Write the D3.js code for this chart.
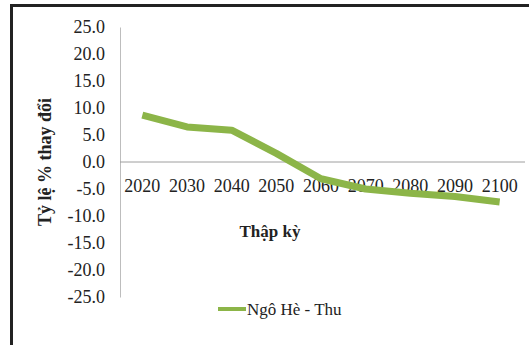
<!DOCTYPE html>
<html>
<head>
<meta charset="utf-8">
<script src="https://cdn.jsdelivr.net/npm/d3@7"></script>
<style>
  html, body { margin: 0; padding: 0; background: #fff; }
  svg { display: block; }
  svg text { font-family: "Liberation Serif", "Times New Roman", serif !important; fill: #222; }
</style>
</head>
<body>
<svg id="chart" width="529" height="345"></svg>
<script>
// Decades on the horizontal axis
const decades = ["2020", "2030", "2040", "2050", "2060", "2070", "2080", "2090", "2100"];
// Percentage change for summer-autumn maize
const changeValues = [8.7, 6.5, 5.9, 1.6, -3.1, -5.0, -5.8, -6.4, -7.4];
// Vertical tick values
const yTicks = [25, 20, 15, 10, 5, 0, -5, -10, -15, -20, -25];
const seriesName = "Ngô Hè - Thu";
const xTitle = "Thập kỳ";
const yTitle = "Tỷ lệ % thay đổi";

const serif = "'Liberation Serif', 'Times New Roman', serif";
const svg = d3.select("#chart");
const W = 529, H = 345;

// Outer frame (top and left edges)
svg.append("rect").attr("x", 0).attr("y", 0).attr("width", W).attr("height", H).attr("fill", "#fff");
svg.append("line").attr("x1", 10).attr("x2", W).attr("y1", 5.5).attr("y2", 5.5)
  .attr("stroke", "#222").attr("stroke-width", 3);
svg.append("line").attr("x1", 11.5).attr("x2", 11.5).attr("y1", 4).attr("y2", H)
  .attr("stroke", "#222").attr("stroke-width", 3);

const plot = { left: 120, right: 522, top: 27, bottom: 297 };

const x = d3.scaleBand().domain(decades).range([plot.left, plot.right]);
const y = d3.scaleLinear().domain([-25, 25]).range([plot.bottom, plot.top]);

// Vertical axis with labels on the left (plain hyphen for negatives)
const yAxis = d3.axisLeft(y).tickValues(yTicks).tickSize(0).tickPadding(15)
  .tickFormat(d => d.toFixed(1));
const gy = svg.append("g").attr("transform", `translate(${plot.left},0)`).call(yAxis)
  .attr("font-family", serif);
gy.select(".domain").attr("stroke", "#bdbdbd").attr("stroke-width", 1);
gy.selectAll("text").attr("font-size", 18).style("font-family", serif).attr("fill", "#222");

// Horizontal axis sits on the zero line
const xAxis = d3.axisBottom(x).tickSize(0).tickPadding(17);
const gx = svg.append("g").attr("transform", `translate(0,${y(0)})`).call(xAxis)
  .attr("font-family", serif);
gx.select(".domain").attr("stroke", "#9e9e9e").attr("stroke-width", 1)
  .attr("d", `M${plot.left},0H${plot.right + 3}`);
gx.selectAll("text").attr("font-size", 18).style("font-family", serif).attr("fill", "#222");

// Data line
const line = d3.line()
  .x((d, i) => x(decades[i]) + x.bandwidth() / 2)
  .y(d => y(d));
svg.append("path").datum(changeValues)
  .attr("d", line)
  .attr("fill", "none")
  .attr("stroke", "#8cb548")
  .attr("stroke-width", 7)
  .attr("stroke-linejoin", "round");

// Axis titles
svg.append("text").attr("x", 270).attr("y", 237).attr("text-anchor", "middle")
  .style("font-family", serif).attr("font-size", 17).attr("font-weight", "bold").text(xTitle);
svg.append("text").attr("transform", "translate(51,162) rotate(-90)").attr("text-anchor", "middle")
  .style("font-family", serif).attr("font-size", 18).attr("font-weight", "bold").text(yTitle);

// Legend
svg.append("line").attr("x1", 218).attr("x2", 246).attr("y1", 309).attr("y2", 309)
  .attr("stroke", "#8cb548").attr("stroke-width", 4);
svg.append("text").attr("x", 247).attr("y", 315).style("font-family", serif)
  .attr("font-size", 17).text(seriesName);
</script>
</body>
</html>
